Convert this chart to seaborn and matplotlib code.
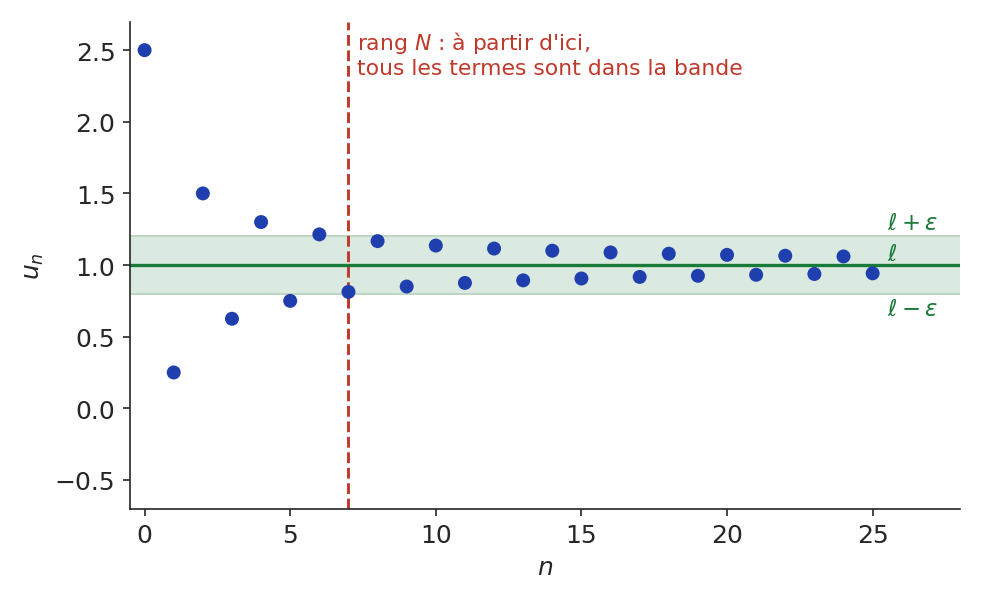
import matplotlib
matplotlib.use("Agg")
import matplotlib.pyplot as plt
import seaborn as sns

n_vals = list(range(26))
u_vals = [2.5, 0.25, 1.5, 0.625, 1.3, 0.75, 1.214, 0.8125, 1.167, 0.85,
          1.136, 0.875, 1.115, 0.893, 1.1, 0.906, 1.088, 0.917, 1.079, 0.925,
          1.071, 0.932, 1.065, 0.9375, 1.06, 0.942]
limit = 1.0
eps = 0.2
rank_N = 7

sns.set_style("ticks")
fig, ax = plt.subplots(figsize=(6.55, 4.02), dpi=150)

green = "#1a7a3a"
ax.axhspan(limit - eps, limit + eps, color="#dbeae0", zorder=0)
ax.axhline(limit + eps, color="#b9d4c0", lw=0.8, zorder=0)
ax.axhline(limit - eps, color="#b9d4c0", lw=0.8, zorder=0)
ax.axhline(limit, color=green, lw=1.6, zorder=1)
ax.axvline(rank_N, color="#c0392b", ls="--", lw=1.4, zorder=1)

sns.scatterplot(x=n_vals, y=u_vals, ax=ax, color="#1f3fae", s=45,
                edgecolor="none", zorder=3)

ax.text(25.5, limit + eps + 0.02, r"$\ell+\varepsilon$", color=green, fontsize=11, va="bottom")
ax.text(25.5, limit + 0.0, r"$\ell$", color=green, fontsize=11, va="bottom")
ax.text(25.5, limit - eps - 0.02, r"$\ell-\varepsilon$", color=green, fontsize=11, va="top")
ax.text(rank_N + 0.3, 2.65, "rang $N$ : à partir d'ici,\ntous les termes sont dans la bande",
        color="#c0392b", fontsize=10.5, va="top")

ax.set_xlim(-0.5, 28)
ax.set_ylim(-0.7, 2.7)
ax.set_xticks([0, 5, 10, 15, 20, 25])
ax.set_yticks([-0.5, 0, 0.5, 1.0, 1.5, 2.0, 2.5])
ax.tick_params(labelsize=12)
ax.set_xlabel("$n$", fontsize=12)
ax.set_ylabel("$u_n$", fontsize=12)
sns.despine(ax=ax)
fig.tight_layout()
fig.savefig("out.png", dpi=150)
